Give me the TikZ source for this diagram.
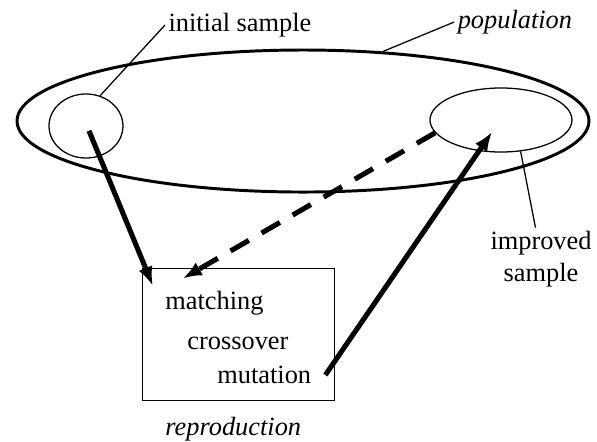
\documentclass[tikz,border=0pt]{standalone}
\usepackage{fontspec}
\setmainfont{Liberation Serif}
\usetikzlibrary{arrows.meta}
\usetikzlibrary{calc}
\usetikzlibrary{shapes.geometric}

\begin{document}
\begin{tikzpicture}[>/.tip={Latex[length=9pt,width=7pt]},font=\fontsize{12.5}{15}\selectfont]
	\useasboundingbox (0,0) rectangle (9.95,7.35);
	\draw (5.05,5.333) node (pop) [draw,shape=ellipse,line width=1.4pt,minimum width=9.533cm,minimum height=2.367cm] {};
	\draw (1.433,5.25) node (init) [draw,shape=ellipse,line width=0.6pt,minimum width=1.233cm,minimum height=1.067cm] {};
	\draw (8.35,5.35) node (impr) [draw,shape=ellipse,line width=0.6pt,minimum width=2.367cm,minimum height=1.067cm] {};
	\draw (2.367,0.667) node (repro) [draw,anchor=south west,line width=0.6pt,minimum width=3.2cm,minimum height=2.2cm] {};
	
	\node (initlbl) [anchor=west,inner sep=1.5pt] at (2.75,6.933) {initial sample};
	\node (poplbl) [anchor=west,inner sep=1.5pt] at (7.57,6.983) {\itshape population};
	\node (imprlbl) [align=center,inner sep=1.5pt] at (9.017,3.033) {improved\\sample};
	\node (match) [anchor=west,inner sep=0pt] at (2.75,2.3) {matching};
	\node (cross) [anchor=west,inner sep=0pt] at (3.117,1.633) {crossover};
	\node (mut) [anchor=west,inner sep=0pt] at (3.617,1.1) {mutation};
	\node (reprolbl) [anchor=west,inner sep=0pt] at (2.75,0.2) {\itshape reproduction};
	
	\draw[line width=0.6pt] (init.65) -- (initlbl.west);
	\draw[line width=0.6pt] (pop.41) -- (poplbl.west);
	\draw[line width=0.6pt] (impr.-58) -- (imprlbl.100);
	
	\draw[->,line width=2.4pt] ($(init.center)+(0.05,-0.08)$) -- ($(repro.north west)+(0.18,-0.3)$);
	\draw[->,line width=2.4pt,dash pattern=on 10pt off 7pt] (impr.191) -- ($(repro.north west)+(0.68,-0.18)$);
	\draw[->,line width=2.4pt] ($(mut.east)+(0.23,0)$) -- ($(impr.center)+(-0.15,-0.2)$);
\end{tikzpicture}
\end{document}
